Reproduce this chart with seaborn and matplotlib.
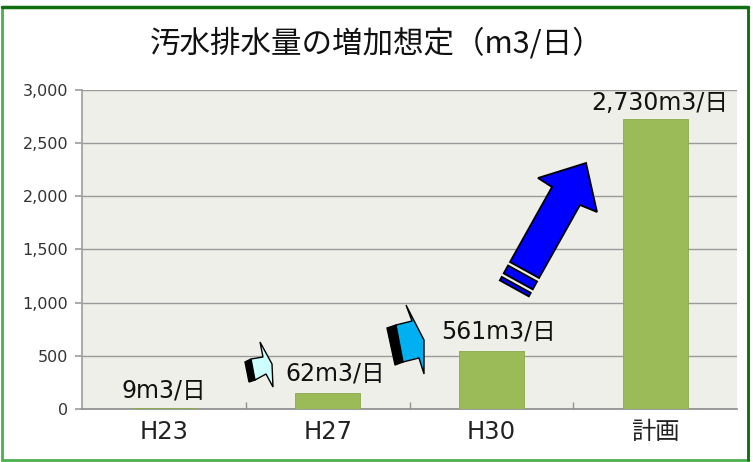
import matplotlib
matplotlib.use("Agg")
import matplotlib.pyplot as plt
import matplotlib.patches as mpatches
import seaborn as sns
import pandas as pd
import numpy as np

categories = ["H23", "H27", "H30", "計画"]
bar_values = [9, 150, 548, 2728]
value_labels = ["9m3/日", "62m3/日", "561m3/日", "2,730m3/日"]
y_ticks = [0, 500, 1000, 1500, 2000, 2500, 3000]
title = "汚水排水量の増加想定（m3/日）"

sns.set_theme(style="white")
plt.rcParams["font.family"] = ["DejaVu Sans", "Noto Sans CJK JP"]
LATIN_CJK = ["DejaVu Sans", "Noto Sans CJK JP"]

df = pd.DataFrame({"cat": categories, "val": bar_values})

fig = plt.figure(figsize=(7.53, 4.62), dpi=100)
ax = fig.add_axes([0.109, 0.115, 0.870, 0.690])
ax.set_facecolor("#EFEFE9")

sns.barplot(data=df, x="cat", y="val", color="#9BBB59", width=0.4,
            saturation=1, ax=ax, zorder=3)
for p in ax.patches:
    p.set_edgecolor("#8AAA4A")
    p.set_linewidth(0.6)

ax.set_ylim(0, 3000)
ax.set_xlim(-0.5, 3.5)
ax.set_yticks(y_ticks)
ax.set_yticklabels([f"{v:,}" for v in y_ticks], fontsize=11.5, color="#333333",
                   family=["DejaVu Sans"])
ax.set_xticks([0, 1, 2, 3])
ax.set_xticklabels(categories, fontsize=17.5, color="#222222", family=LATIN_CJK)
ax.yaxis.grid(True, color="#9A9A9A", linewidth=1.0, zorder=0)
ax.set_axisbelow(True)
ax.set_xlabel("")
ax.set_ylabel("")
for s in ["top", "right"]:
    ax.spines[s].set_visible(False)
ax.spines["left"].set_color("#A0A0A0")
ax.spines["bottom"].set_color("#909090")
ax.tick_params(axis="y", length=5, color="#A0A0A0", pad=5, left=True)
ax.set_xticks([0.5, 1.5, 2.5], minor=True)
ax.tick_params(axis="x", which="major", length=0, pad=8)
ax.tick_params(axis="x", which="minor", length=5, color="#909090", direction="in", bottom=True)

offsets = [(0, 4), (5, 5), (5, 5), (3, 3)]
for i, (v, lab) in enumerate(zip(bar_values, value_labels)):
    ax.annotate(lab, (i, v), xytext=offsets[i], textcoords="offset points",
                ha="center", va="bottom", fontsize=17, color="#111111", zorder=5,
                family=LATIN_CJK)

fig.text(0.5, 0.905, title, ha="center", va="center", fontsize=22, color="#111111",
         family=["Noto Sans CJK JP", "DejaVu Sans"])

# decorative arrows (pixel coords -> figure fraction)
W, H = 753, 462
def pix(pts):
    return [(x / W, 1 - y / H) for x, y in pts]

def poly(pts, face, lw=1.0, z=11):
    fig.patches.append(mpatches.Polygon(pix(pts), closed=True, transform=fig.transFigure,
                                        facecolor=face, edgecolor="black", linewidth=lw, zorder=z))

# small light arrow near H27
poly([(245, 362), (251, 359), (255, 380), (249, 382)], "black", z=10)
poly([(251, 359), (263, 357), (260, 342), (272, 364), (273, 387), (266, 374), (255, 380)], "#CCFFFF")
# cyan arrow near H30
poly([(387, 328), (396, 325), (403, 362), (395, 365)], "black", z=10)
poly([(396, 325), (412, 321), (406, 305), (424, 340), (424, 374), (419, 358), (403, 362)], "#00B0F0")

# big blue arrow
bl = np.array([510.0, 262.0])
br = np.array([539.0, 278.0])
d = np.array([41.0, -74.0])
d /= np.linalg.norm(d)
poly([tuple(bl), (552, 187), (538, 178), (586, 163), (597, 212), (580, 205), tuple(br)], "#0000FF", lw=1.3)
poly([tuple(bl - 4 * d), tuple(br - 4 * d), tuple(br - 13 * d), tuple(bl - 13 * d)], "#0000FF", lw=1.3)
poly([tuple(bl - 17 * d), tuple(br - 17 * d), tuple(br - 21 * d), tuple(bl - 21 * d)], "#0000FF", lw=1.3)

# green frame
fx0, fx1, fy0, fy1 = 2 / W, 748 / W, 1 - 460 / H, 1 - 7 / H
fig.patches.append(mpatches.Rectangle((fx0, fy0), fx1 - fx0, fy1 - fy0, transform=fig.transFigure,
                                      fill=False, edgecolor="#4CAF50", linewidth=2.0, zorder=20))
fig.lines.append(plt.Line2D([fx0, fx1], [fy1, fy1], transform=fig.transFigure,
                            color="#107010", linewidth=2.5, zorder=21))
fig.lines.append(plt.Line2D([fx1, fx1], [fy0, fy1], transform=fig.transFigure,
                            color="#107010", linewidth=2.0, zorder=21))

fig.savefig("out.png", dpi=100, facecolor="white")
